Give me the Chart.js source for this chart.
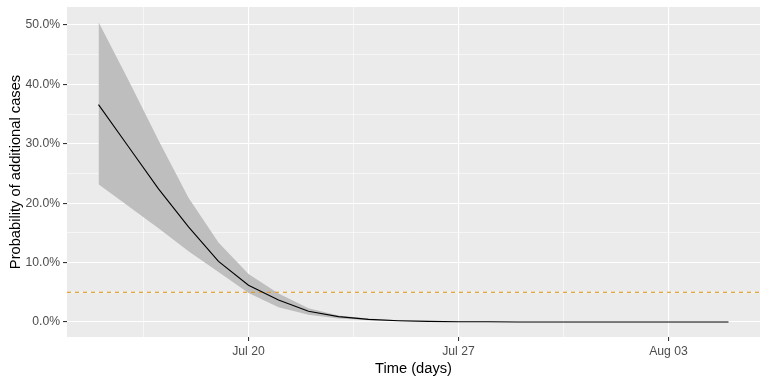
<!DOCTYPE html>
<html>
<head>
<meta charset="utf-8">
<script src="https://cdn.jsdelivr.net/npm/chart.js@4.4.1/dist/chart.umd.min.js"></script>
<style>
  html, body { margin: 0; padding: 0; background: #ffffff; }
  #prob_map { width: 768px; height: 384px; }
</style>
</head>
<body>
<div id="prob_map"><canvas id="prob_canvas" width="768" height="384"></canvas></div>
<script>
// daily estimates, values in percent
const dates = [
  '2020-07-15', '2020-07-16', '2020-07-17', '2020-07-18', '2020-07-19', '2020-07-20',
  '2020-07-21', '2020-07-22', '2020-07-23', '2020-07-24', '2020-07-25', '2020-07-26',
  '2020-07-27', '2020-07-28', '2020-07-29', '2020-07-30', '2020-07-31', '2020-08-01',
  '2020-08-02', '2020-08-03', '2020-08-04', '2020-08-05'
];
const probMean = [36.6, 29.5, 22.4, 16.0, 10.2, 6.2, 3.7, 1.8, 0.9, 0.45, 0.22, 0.1,
  0.05, 0.03, 0.01, 0, 0, 0, 0, 0, 0, 0];
const probUpper = [50.5, 40.7, 30.6, 20.9, 13.4, 8.1, 4.8, 2.3, 1.1, 0.6, 0.3, 0.15,
  0.08, 0.04, 0.02, 0.01, 0, 0, 0, 0, 0, 0];
const probLower = [23.2, 19.5, 15.8, 11.9, 8.4, 4.9, 2.5, 1.2, 0.6, 0.3, 0.15, 0.07,
  0.03, 0.01, 0, 0, 0, 0, 0, 0, 0, 0];
const threshold = 5;
const xBreaks = ['2020-07-20', '2020-07-27', '2020-08-03'];
const yBreaks = [0, 10, 20, 30, 40, 50];

const monthNames = ['Jan', 'Feb', 'Mar', 'Apr', 'May', 'Jun', 'Jul', 'Aug', 'Sep', 'Oct', 'Nov', 'Dec'];
const DAY = 86400000;
function toDay(s) { return Date.parse(s + 'T00:00:00Z') / DAY; }
function dayLabel(d) {
  const dt = new Date(Math.round(d) * DAY);
  return monthNames[dt.getUTCMonth()] + ' ' + String(dt.getUTCDate()).padStart(2, '0');
}

const xs = dates.map(toDay);
const xMajor = xBreaks.map(toDay);
const xLo = Math.min(...xs), xHi = Math.max(...xs);
const xPad = (xHi - xLo) * 0.05;
const xMin = xLo - xPad, xMax = xHi + xPad;

const yLo = Math.min(...probLower, ...probMean), yHi = Math.max(...probUpper, ...probMean);
const yPad = (yHi - yLo) * 0.05;
const yMin = yLo - yPad, yMax = yHi + yPad;

// minor breaks halfway between the major ones
let xMinor = [];
xMajor.forEach(m => { xMinor.push(m - 3.5, m + 3.5); });
xMinor = [...new Set(xMinor)].filter(v => v > xMin && v < xMax && !xMajor.includes(v));
let yMinor = [];
yBreaks.forEach(v => { yMinor.push(v + 5); });
yMinor = yMinor.filter(v => v > yMin && v < yMax && !yBreaks.includes(v));

function pts(arr) { return arr.map((v, i) => ({ x: xs[i], y: v })); }

const panelBg = {
  id: 'panelBg',
  beforeDraw(chart) {
    const a = chart.chartArea, c = chart.ctx;
    c.save();
    c.fillStyle = '#EBEBEB';
    c.fillRect(a.left, a.top, a.right - a.left, a.bottom - a.top);
    c.restore();
  }
};

function noEdgePad(scale) {
  scale.paddingTop = 0;
  scale.paddingBottom = 0;
  scale.paddingLeft = 0;
  scale.paddingRight = 0;
}

const tickFont = { family: "'Liberation Sans', Arial, sans-serif", size: 12.2 };
const titleFont = { family: "'Liberation Sans', Arial, sans-serif", size: 14.7 };

let ctx = document.getElementById('prob_canvas');
let chart1 = new Chart(ctx, {
  type: 'line',
  data: {
    datasets: [
      {
        label: 'mean',
        data: pts(probMean),
        borderColor: '#000000',
        borderWidth: 1.1,
        pointRadius: 0,
        tension: 0,
        fill: false
      },
      {
        label: 'threshold',
        data: [{ x: xMin, y: threshold }, { x: xMax, y: threshold }],
        borderColor: '#E29A1E',
        borderWidth: 1.1,
        borderDash: [4, 4],
        pointRadius: 0,
        fill: false
      },
      {
        label: 'upper',
        data: pts(probUpper),
        borderWidth: 0,
        borderColor: 'rgba(0,0,0,0)',
        backgroundColor: '#BEBEBE',
        pointRadius: 0,
        tension: 0,
        fill: '+1'
      },
      {
        label: 'lower',
        data: pts(probLower),
        borderWidth: 0,
        borderColor: 'rgba(0,0,0,0)',
        pointRadius: 0,
        tension: 0,
        fill: false
      }
    ]
  },
  options: {
    responsive: false,
    animation: false,
    devicePixelRatio: 1,
    layout: { padding: { top: 7, right: 8, left: 0, bottom: 0 } },
    plugins: {
      legend: { display: false },
      tooltip: { enabled: false }
    },
    scales: {
      x: {
        type: 'linear',
        min: xMin,
        max: xMax,
        afterBuildTicks(scale) {
          scale.ticks = [...xMinor, ...xMajor].sort((a, b) => a - b).map(v => ({ value: v }));
        },
        afterFit(scale) { scale.height = 47; noEdgePad(scale); },
        border: { display: false },
        grid: {
          color: '#FFFFFF',
          lineWidth: c => (xMajor.includes(c.tick.value) ? 1.1 : 0.55),
          tickColor: c => (xMajor.includes(c.tick.value) ? '#333333' : 'rgba(0,0,0,0)'),
          tickLength: 4,
          tickWidth: 1.1
        },
        ticks: {
          autoSkip: false,
          maxRotation: 0,
          padding: 3,
          color: '#4D4D4D',
          font: tickFont,
          callback: v => (xMajor.includes(v) ? dayLabel(v) : '')
        },
        title: {
          display: true,
          text: 'Time (days)',
          color: '#000000',
          font: titleFont,
          padding: { top: 0, bottom: 6 }
        }
      },
      y: {
        type: 'linear',
        min: yMin,
        max: yMax,
        afterBuildTicks(scale) {
          scale.ticks = [...yMinor, ...yBreaks].sort((a, b) => a - b).map(v => ({ value: v }));
        },
        afterFit(scale) { scale.width = 67; noEdgePad(scale); },
        border: { display: false },
        grid: {
          color: '#FFFFFF',
          lineWidth: c => (yBreaks.includes(c.tick.value) ? 1.1 : 0.55),
          tickColor: c => (yBreaks.includes(c.tick.value) ? '#333333' : 'rgba(0,0,0,0)'),
          tickLength: 4,
          tickWidth: 1.1
        },
        ticks: {
          autoSkip: false,
          padding: 3,
          color: '#4D4D4D',
          font: tickFont,
          callback: v => (yBreaks.includes(v) ? v.toFixed(1) + '%' : '')
        },
        title: {
          display: true,
          text: 'Probability of additional cases',
          color: '#000000',
          font: titleFont,
          padding: { top: 7, bottom: 0 }
        }
      }
    }
  },
  plugins: [panelBg]
});
</script>
</body>
</html>
